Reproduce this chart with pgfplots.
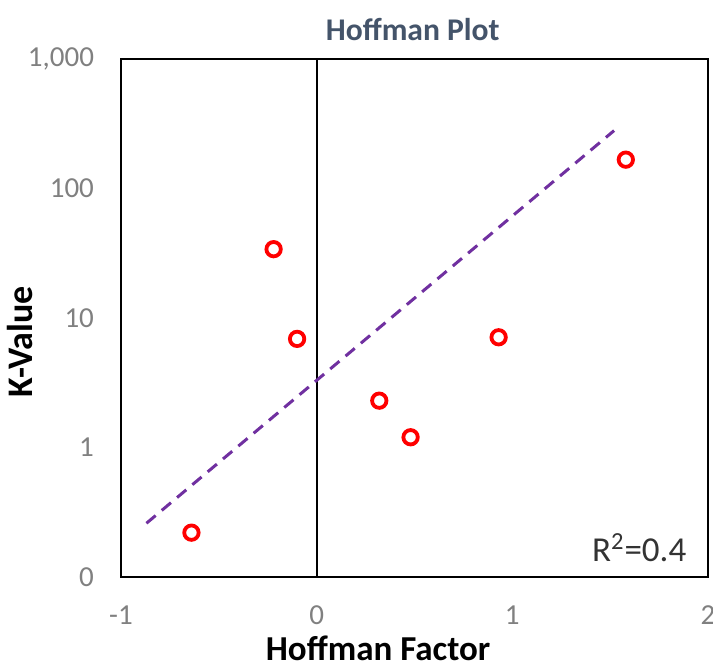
\documentclass[border=0pt]{standalone}
\usepackage{fontspec}
\setmainfont{Carlito}
\usepackage{pgfplots}
\pgfplotsset{compat=1.18}
\definecolor{titleblue}{HTML}{44546A}
\definecolor{tickgray}{HTML}{808080}
\definecolor{trendpurple}{HTML}{7030A0}
\definecolor{ptred}{HTML}{FF0000}
\begin{document}
\begin{tikzpicture}
\useasboundingbox (-60.5pt,-46.5pt) rectangle (296pt,288.5pt);
\begin{axis}[
  scale only axis,
  width=293.5pt, height=259pt,
  xmin=-1, xmax=2,
  ymode=log, ymin=0.1, ymax=1000,
  xtick={-1,0,1,2}, xticklabels={-1,0,1,2},
  ytick={0.1,1,10,100,1000}, yticklabels={0,1,10,100,{1,000}},
  major tick length=0pt, minor tick num=0,
  yminorticks=false,
  axis line style={black, line width=1.1pt},
  ticklabel style={font=\fontsize{14.5}{17}\selectfont, text=tickgray},
  xticklabel style={anchor=base, yshift=-23.5pt, inner ysep=1pt},
  yticklabel style={anchor=east, xshift=-10pt},
  title={Hoffman Plot},
  title style={at={(axis description cs:0.497,1)}, anchor=base, yshift=3.5pt,
    font=\bfseries\fontsize{15.8}{19}\selectfont, text=titleblue},
  xlabel={Hoffman Factor},
  xlabel style={at={(axis description cs:0.438,0)}, anchor=base, yshift=-41.5pt, inner ysep=1pt,
    font=\bfseries\fontsize{17.5}{21}\selectfont},
  ylabel={K-Value},
  ylabel style={at={(axis description cs:-0.15,0.454)}, anchor=base,
    font=\bfseries\fontsize{18}{21}\selectfont},
  clip=false,
]
\addplot[black, line width=0.9pt, forget plot] coordinates {(0,0.1) (0,1000)};
\addplot[trendpurple, line width=1.5pt, dash pattern=on 6pt off 4pt] coordinates {(-0.87,0.26) (1.52,280)};
\addplot[only marks, mark=o, mark size=3.6pt, ptred, mark options={line width=1.9pt}] coordinates {
  (1.58,167) (-0.22,34) (-0.10,6.9) (0.32,2.3) (0.48,1.2) (0.93,7.1) (-0.64,0.22)
};
\node[anchor=base east, font=\fontsize{17.5}{20}\selectfont, text=black!80] at (rel axis cs:0.975,0.029) {R\textsuperscript{2}=0.4};
\end{axis}
\end{tikzpicture}
\end{document}
